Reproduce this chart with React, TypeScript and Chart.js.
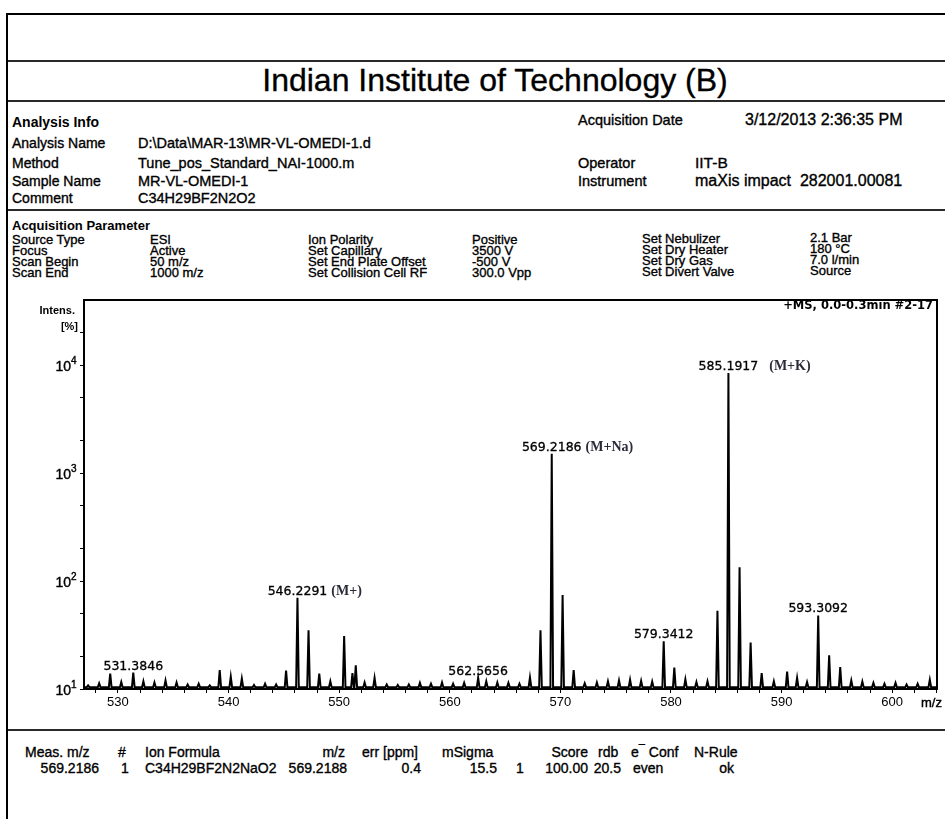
import React, { useEffect, useRef } from 'react';
import { Chart, registerables } from 'chart.js';

Chart.register(...registerables);

// ---- spectrum data (m/z, intensity) ----
const peakMz = [
  527.3, 528.3, 529.3, 530.3, 531.3846, 532.3, 533.3, 534.3, 535.3, 536.3, 537.3, 538.3,
  539.2, 540.2, 541.2, 542.3, 543.3, 544.3, 545.2, 546.2291, 547.23, 548.2, 549.2, 550.45,
  551.2, 551.5, 552.3, 553.2, 554.3, 555.3, 556.3, 557.3, 558.3, 559.3, 560.3, 561.3,
  562.5656, 563.3, 564.3, 565.3, 566.3, 567.25, 568.2, 569.2186, 570.2, 571.2, 572.2, 573.3,
  574.3, 575.3, 576.3, 577.3, 578.3, 579.3412, 580.3, 581.3, 582.3, 583.3, 584.2, 585.1917,
  586.2, 587.2, 588.2, 589.3, 590.5, 591.4, 592.3, 593.3092, 594.3, 595.3, 596.3, 597.3,
  598.3, 599.3, 600.3, 601.3, 602.3, 603.4,
];
const peakIntensity = [
  10.8, 11.3, 13.9, 11.6, 14.2, 11.8, 11.5, 12.0, 11.5, 11.0, 11.2, 10.8,
  15.0, 13.0, 12.5, 10.9, 11.2, 11.0, 14.8, 70, 35, 13.9, 11.8, 31,
  14, 16.6, 11.5, 12.7, 11.0, 10.9, 11.0, 11.4, 11.2, 11.5, 11.2, 11.4,
  12.7, 11.8, 11.5, 11.4, 11.2, 12.8, 35, 1510, 74, 15, 11.3, 11.5,
  11.8, 12.0, 12.2, 11.9, 11.7, 27.7, 15.8, 12.3, 11.6, 11.8, 53, 8440,
  134, 27, 14, 11.8, 14.5, 12.7, 11.6, 48, 20.5, 16, 12, 11.7,
  11.4, 11.2, 11.4, 11.0, 11.2, 12.2,
];
const baselineIntensity = 10.4;

// labelled peaks
const labelMz = [531.3846, 546.2291, 562.5656, 569.2186, 579.3412, 585.1917, 593.3092];
const labelText = ['531.3846', '546.2291', '562.5656', '569.2186', '579.3412', '585.1917', '593.3092'];
const labelIntensity = [14.2, 70, 12.7, 1510, 27.7, 8440, 48];
const labelAnnotation = ['', '(M+)', '', '(M+Na)', '', '(M+K)', ''];

// axes
const xMin = 526.93;
const xMax = 604.05;
const yMin = 10;
const yMax = 40000;
const xTickValues = [528, 530, 532, 534, 536, 538, 540, 542, 544, 546, 548, 550, 552, 554, 556, 558, 560,
  562, 564, 566, 568, 570, 572, 574, 576, 578, 580, 582, 584, 586, 588, 590, 592, 594, 596, 598, 600, 602, 604];
const xLabelValues = [530, 540, 550, 560, 570, 580, 590, 600];
const yMajorTicks = [10, 100, 1000, 10000];
const yMinorTicks = [20, 50, 200, 500, 2000, 5000, 20000];

function buildProfile() {
  const pts: { x: number; y: number }[] = [{ x: xMin, y: baselineIntensity }];
  const half = 0.12;
  peakMz.forEach((m, i) => {
    pts.push({ x: m - half, y: baselineIntensity });
    pts.push({ x: m, y: peakIntensity[i] });
    pts.push({ x: m + half, y: baselineIntensity });
  });
  pts.push({ x: xMax, y: baselineIntensity });
  return pts;
}

function heavyText(ctx: CanvasRenderingContext2D, text: string, x: number, y: number, w = 0.4) {
  ctx.fillText(text, x, y);
  ctx.lineWidth = w;
  ctx.strokeStyle = ctx.fillStyle as string;
  ctx.strokeText(text, x, y);
}

const decorPlugin = {
  id: 'decor',
  afterDraw(chart: any) {
    const { ctx, chartArea, scales } = chart;
    const xs = scales.x;
    const ys = scales.y;
    ctx.save();
    // frame top & right
    ctx.strokeStyle = '#000';
    ctx.lineWidth = 2;
    ctx.beginPath();
    ctx.moveTo(chartArea.left - 1, chartArea.top);
    ctx.lineTo(chartArea.right, chartArea.top);
    ctx.lineTo(chartArea.right, chartArea.bottom);
    ctx.stroke();

    // y tick labels 10^n
    ctx.fillStyle = '#000';
    yMajorTicks.forEach((v) => {
      const y = ys.getPixelForValue(v);
      const exp = String(Math.round(Math.log10(v)));
      ctx.font = '14px "Liberation Sans", Arial, sans-serif';
      ctx.textAlign = 'right';
      ctx.textBaseline = 'middle';
      heavyText(ctx, '10', chartArea.left - 13, y + 2);
      ctx.font = '10px "Liberation Sans", Arial, sans-serif';
      ctx.textAlign = 'left';
      heavyText(ctx, exp, chartArea.left - 13, y - 4);
    });

    // Intens. [%]
    ctx.font = 'bold 11px "Liberation Sans", Arial, sans-serif';
    ctx.textAlign = 'right';
    ctx.textBaseline = 'middle';
    ctx.fillText('Intens.', chartArea.left - 9, chartArea.top + 11);
    ctx.fillText('[%]', chartArea.left - 6, chartArea.top + 27);

    // m/z unit
    ctx.font = '13px "Liberation Sans", Arial, sans-serif';
    ctx.textAlign = 'left';
    heavyText(ctx, 'm/z', xs.getPixelForValue(602.6), chartArea.bottom + 14);

    // scan info
    ctx.font = 'bold 11.5px "DejaVu Sans", sans-serif';
    ctx.textAlign = 'right';
    ctx.fillText('+MS, 0.0-0.3min #2-17', chartArea.right - 4, chartArea.top + 6);

    // peak labels
    labelMz.forEach((m, i) => {
      const px = xs.getPixelForValue(m);
      const py = ys.getPixelForValue(labelIntensity[i]);
      ctx.font = '12.5px "DejaVu Sans", sans-serif';
      ctx.textAlign = 'center';
      ctx.textBaseline = 'alphabetic';
      ctx.fillStyle = '#000';
      heavyText(ctx, labelText[i], px, py - 3, 0.3);
      if (labelAnnotation[i]) {
        const w = ctx.measureText(labelText[i]).width;
        const gap = labelAnnotation[i] === '(M+K)' ? 11 : 4;
        ctx.font = 'bold 14px "Liberation Serif", "Times New Roman", serif';
        ctx.textAlign = 'left';
        ctx.fillStyle = '#2b2b3a';
        ctx.fillText(labelAnnotation[i], px + w / 2 + gap, py - 3);
      }
    });
    ctx.restore();
  },
};

function T(props: { x: number; y: number; size: number; bold?: boolean; right?: boolean; center?: boolean; children: React.ReactNode }) {
  const { x, y, size, bold, right, center, children } = props;
  const tx = right ? '-100%' : center ? '-50%' : '0';
  return (
    <div
      style={{
        position: 'absolute',
        left: x,
        top: y,
        transform: `translate(${tx}, -50%)`,
        fontSize: size,
        fontWeight: bold ? 'bold' : 'normal',
        lineHeight: 1,
        whiteSpace: 'nowrap',
        color: '#000',
        WebkitTextStroke: bold ? '0px' : '0.35px #000',
      }}
    >
      {children}
    </div>
  );
}

function Rule({ y }: { y: number }) {
  return <div style={{ position: 'absolute', left: 8, top: y, width: 945, height: 2, background: '#2a2a2a' }} />;
}

export default function App() {
  const canvasRef = useRef<HTMLCanvasElement | null>(null);

  useEffect(() => {
    if (!canvasRef.current) return;
    const chart = new Chart(canvasRef.current, {
      type: 'line',
      data: {
        datasets: [
          {
            data: buildProfile(),
            borderColor: '#000',
            borderWidth: 2,
            pointRadius: 0,
            tension: 0,
            fill: false,
          },
        ],
      },
      options: {
        animation: false,
        responsive: false,
        maintainAspectRatio: false,
        layout: { padding: { left: 0, right: 8, top: 20, bottom: 0 } },
        plugins: { legend: { display: false }, tooltip: { enabled: false }, title: { display: false } },
        scales: {
          x: {
            type: 'linear',
            min: xMin,
            max: xMax,
            afterBuildTicks: (s: any) => {
              s.ticks = xTickValues.map((v) => ({ value: v }));
            },
            afterFit: (s: any) => {
              s.height = 31;
            },
            ticks: {
              autoSkip: false,
              maxRotation: 0,
              padding: 2,
              color: '#000',
              font: { family: '"Liberation Sans", Arial, sans-serif', size: 13 },
              callback: (v: any) => (xLabelValues.includes(Number(v)) ? String(v) : ''),
            },
            grid: { drawOnChartArea: false, drawTicks: true, tickLength: 4, color: '#000', lineWidth: 1 },
            border: { display: true, color: '#000', width: 2 },
          },
          y: {
            type: 'logarithmic',
            min: yMin,
            max: yMax,
            afterBuildTicks: (s: any) => {
              s.ticks = [...yMajorTicks, ...yMinorTicks].sort((a, b) => a - b).map((v) => ({ value: v }));
            },
            afterFit: (s: any) => {
              s.width = 84;
            },
            ticks: { autoSkip: false, callback: () => '' },
            grid: { drawOnChartArea: false, drawTicks: true, tickLength: 4, color: '#000', lineWidth: 1 },
            border: { display: true, color: '#000', width: 2 },
          },
        },
      },
      plugins: [decorPlugin],
    });
    return () => chart.destroy();
  }, []);

  return (
    <div
      style={{
        position: 'absolute',
        left: 0,
        top: 0,
        width: 945,
        height: 819,
        overflow: 'hidden',
        background: '#fff',
        fontFamily: '"Liberation Sans", Arial, sans-serif',
      }}
    >
      <div style={{ position: 'absolute', left: 6, top: 13, width: 960, height: 820, borderTop: '2px solid #000', borderLeft: '2px solid #000' }} />
      <Rule y={60} />
      <T x={495} y={80} size={32} center>Indian Institute of Technology (B)</T>
      <Rule y={100} />

      <T x={12} y={122} size={14} bold>Analysis Info</T>
      <T x={12} y={143} size={14}>Analysis Name</T>
      <T x={138} y={143} size={14.5}>D:\Data\MAR-13\MR-VL-OMEDI-1.d</T>
      <T x={12} y={163} size={14}>Method</T>
      <T x={138} y={163} size={14.5}>Tune_pos_Standard_NAI-1000.m</T>
      <T x={12} y={181} size={14}>Sample Name</T>
      <T x={138} y={181} size={14.5}>MR-VL-OMEDI-1</T>
      <T x={12} y={198} size={14}>Comment</T>
      <T x={138} y={198} size={14.5}>C34H29BF2N2O2</T>

      <T x={578} y={120} size={14.5}>Acquisition Date</T>
      <T x={745} y={120} size={16}>3/12/2013 2:36:35 PM</T>
      <T x={578} y={163} size={14.5}>Operator</T>
      <T x={695} y={163} size={15.5}>IIT-B</T>
      <T x={578} y={181} size={14.5}>Instrument</T>
      <T x={695} y={181} size={16}>maXis impact&nbsp;&nbsp;282001.00081</T>

      <Rule y={209} />
      <T x={12} y={225} size={13} bold>Acquisition Parameter</T>
      <T x={12} y={239} size={13}>Source Type</T>
      <T x={12} y={250} size={13}>Focus</T>
      <T x={12} y={261} size={13}>Scan Begin</T>
      <T x={12} y={272} size={13}>Scan End</T>
      <T x={150} y={239} size={13}>ESI</T>
      <T x={150} y={250} size={13}>Active</T>
      <T x={150} y={261} size={13}>50 m/z</T>
      <T x={150} y={272} size={13}>1000 m/z</T>
      <T x={308} y={239} size={13}>Ion Polarity</T>
      <T x={308} y={250} size={13}>Set Capillary</T>
      <T x={308} y={261} size={13}>Set End Plate Offset</T>
      <T x={308} y={272} size={13}>Set Collision Cell RF</T>
      <T x={472} y={239} size={13}>Positive</T>
      <T x={472} y={250} size={13}>3500 V</T>
      <T x={472} y={261} size={13}>-500 V</T>
      <T x={472} y={272} size={13}>300.0 Vpp</T>
      <T x={642} y={238} size={13}>Set Nebulizer</T>
      <T x={642} y={249} size={13}>Set Dry Heater</T>
      <T x={642} y={260} size={13}>Set Dry Gas</T>
      <T x={642} y={271} size={13}>Set Divert Valve</T>
      <T x={810} y={237} size={13}>2.1 Bar</T>
      <T x={810} y={248} size={13}>180 °C</T>
      <T x={810} y={259} size={13}>7.0 l/min</T>
      <T x={810} y={270} size={13}>Source</T>

      <canvas ref={canvasRef} width={945} height={440} style={{ position: 'absolute', left: 0, top: 280, width: 945, height: 440 }} />

      <Rule y={729} />
      <T x={25} y={752} size={14}>Meas. m/z</T>
      <T x={118} y={752} size={14}>#</T>
      <T x={145} y={752} size={14}>Ion Formula</T>
      <T x={345} y={752} size={14} right>m/z</T>
      <T x={362} y={752} size={14}>err [ppm]</T>
      <T x={442} y={752} size={14}>mSigma</T>
      <T x={588} y={752} size={14} right>Score</T>
      <T x={598} y={752} size={14}>rdb</T>
      <T x={631} y={752} size={14}>e<span style={{ fontSize: 11, position: 'relative', top: -4 }}>¯</span> Conf</T>
      <T x={694} y={752} size={14}>N-Rule</T>

      <T x={99} y={768} size={14} right>569.2186</T>
      <T x={121} y={768} size={14}>1</T>
      <T x={145} y={768} size={14}>C34H29BF2N2NaO2</T>
      <T x={347} y={768} size={14} right>569.2188</T>
      <T x={421} y={768} size={14} right>0.4</T>
      <T x={497} y={768} size={14} right>15.5</T>
      <T x={516} y={768} size={14}>1</T>
      <T x={588} y={768} size={14} right>100.00</T>
      <T x={621} y={768} size={14} right>20.5</T>
      <T x={633} y={768} size={14}>even</T>
      <T x={734} y={768} size={14} right>ok</T>
    </div>
  );
}
